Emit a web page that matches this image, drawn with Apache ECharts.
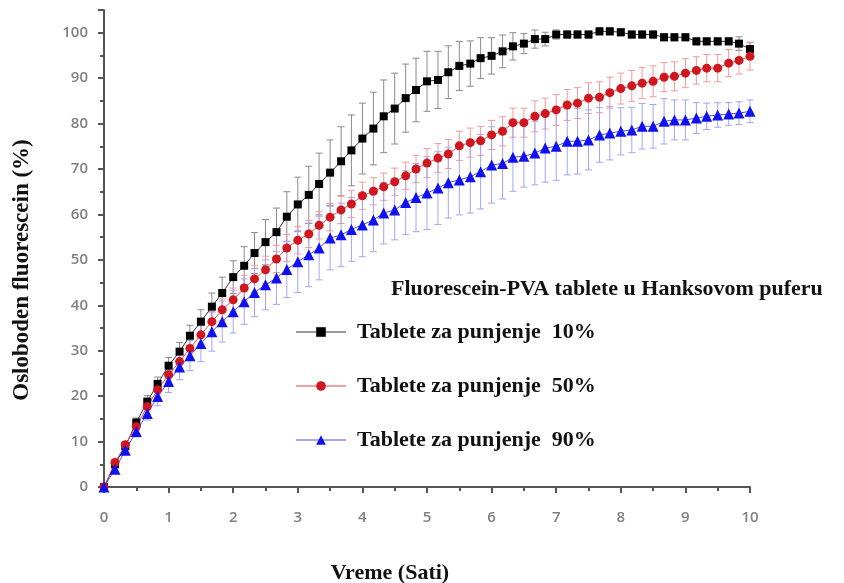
<!DOCTYPE html>
<html>
<head>
	<meta charset="UTF-8">
	<title>Osloboden fluorescein</title>
	<script src="https://cdn.jsdelivr.net/npm/echarts@6/dist/echarts.min.js"></script>
	<style type="text/css">
		html, body {
			margin: 0;
			padding: 0;
			background: #fff;
		}
		#main {
			width: 844px;
			height: 583px;
		}
	</style>
</head>
<body>
	<div id="main"></div>
	<script type="text/javascript">
		// vreme (sati)
		var times = [0, 0.17, 0.33, 0.5, 0.67, 0.83, 1, 1.17, 1.33, 1.5, 1.67, 1.83, 2, 2.17, 2.33, 2.5, 2.67, 2.83, 3, 3.17, 3.33, 3.5, 3.67, 3.83, 4, 4.17, 4.33, 4.5, 4.67, 4.83, 5, 5.17, 5.33, 5.5, 5.67, 5.83, 6, 6.17, 6.33, 6.5, 6.67, 6.83, 7, 7.17, 7.33, 7.5, 7.67, 7.83, 8, 8.17, 8.33, 8.5, 8.67, 8.83, 9, 9.17, 9.33, 9.5, 9.67, 9.83, 10];
		// tablete 10%
		var load10 = [0, 5.0, 9.0, 14.2, 18.8, 22.7, 26.7, 29.8, 33.3, 36.4, 39.7, 42.7, 46.2, 48.7, 51.5, 53.9, 56.1, 59.5, 62.2, 64.3, 66.7, 69.2, 71.7, 74.1, 76.7, 78.9, 81.6, 83.3, 85.6, 87.4, 89.3, 89.6, 91.3, 92.7, 93.2, 94.4, 94.9, 95.9, 97.0, 97.6, 98.6, 98.6, 99.6, 99.6, 99.6, 99.6, 100.3, 100.3, 100.1, 99.6, 99.6, 99.6, 99.0, 99.0, 99.0, 98.1, 98.1, 98.1, 98.1, 97.6, 96.4];
		var err10 = [0, 0.5, 0.8, 1.0, 1.3, 1.5, 1.8, 2.0, 2.3, 2.6, 3.0, 3.5, 3.6, 4.2, 4.5, 5.0, 5.3, 5.5, 6.0, 6.3, 6.8, 7.2, 7.6, 7.8, 7.8, 8.0, 8.0, 7.8, 7.5, 7.0, 6.6, 6.3, 5.8, 5.4, 5.0, 4.5, 4.0, 3.6, 3.0, 2.2, 2.0, 1.5, 1.0, 0.8, 0.8, 0.8, 0.8, 0.8, 0.8, 0.8, 0.8, 0.8, 0.8, 0.8, 0.8, 0.8, 0.8, 0.8, 0.8, 1.5, 1.5];
		// tablete 50%
		var load50 = [0, 5.4, 9.3, 13.3, 17.7, 21.4, 24.7, 27.6, 30.5, 33.5, 36.4, 39.0, 41.2, 43.8, 45.8, 47.8, 50.2, 52.6, 54.3, 55.7, 57.6, 59.4, 61.0, 62.3, 64.1, 65.1, 66.1, 67.2, 68.5, 70.0, 71.3, 72.4, 73.3, 75.1, 75.8, 76.2, 77.5, 78.3, 80.2, 80.2, 81.6, 82.2, 83.0, 84.1, 84.5, 85.6, 85.8, 86.8, 87.7, 88.3, 88.9, 89.3, 90.2, 90.4, 91.1, 91.7, 92.2, 92.2, 93.3, 93.9, 94.8];
		var err50 = [0, 0.4, 0.6, 0.8, 1.0, 1.2, 1.4, 1.6, 1.8, 2.0, 2.2, 2.4, 2.6, 2.8, 3.0, 3.0, 3.0, 3.0, 3.0, 3.0, 3.0, 3.0, 3.0, 3.0, 3.0, 3.0, 3.0, 3.0, 3.0, 3.0, 3.2, 3.2, 3.2, 3.2, 3.2, 3.2, 3.2, 3.2, 3.2, 3.2, 3.4, 3.4, 3.4, 3.4, 3.4, 3.4, 3.4, 3.4, 3.4, 3.4, 3.4, 3.4, 3.2, 3.2, 3.2, 3.0, 3.0, 3.0, 3.0, 3.0, 3.0];
		// tablete 90%
		var load90 = [0, 3.9, 8.1, 12.2, 16.2, 19.9, 23.2, 26.4, 28.9, 31.6, 34.2, 36.4, 38.6, 40.8, 42.8, 44.5, 46.0, 47.9, 49.6, 51.1, 52.6, 54.8, 55.5, 56.7, 57.7, 58.8, 60.3, 61.0, 62.6, 63.7, 64.7, 65.8, 67.0, 67.6, 68.3, 69.4, 70.9, 71.2, 72.6, 72.8, 73.5, 74.6, 75.0, 76.1, 76.1, 76.4, 77.5, 77.9, 78.3, 78.6, 79.4, 79.4, 80.5, 80.8, 80.8, 81.2, 81.6, 81.9, 82.1, 82.3, 82.7];
		var err90 = [0, 0.5, 0.8, 1.2, 1.5, 2.0, 2.4, 2.8, 3.3, 4.0, 4.3, 4.5, 4.7, 5.0, 5.3, 5.5, 5.8, 6.2, 6.8, 7.0, 7.0, 7.0, 7.0, 7.0, 7.0, 7.0, 6.8, 6.6, 7.0, 7.5, 8.0, 8.0, 7.8, 7.7, 8.0, 8.2, 8.4, 7.8, 7.5, 6.8, 7.0, 7.5, 7.5, 7.4, 7.2, 6.6, 6.0, 5.9, 5.2, 5.0, 5.0, 4.8, 5.0, 4.4, 4.4, 3.4, 2.9, 2.7, 2.5, 2.5, 2.5];
		// nazivi
		var names = ['Tablete za punjenje  10%', 'Tablete za punjenje  50%', 'Tablete za punjenje  90%'];
		var xTicks = [0, 1, 2, 3, 4, 5, 6, 7, 8, 9, 10];
		var yTicks = [0, 10, 20, 30, 40, 50, 60, 70, 80, 90, 100];

		var serif = '"Liberation Serif", "Times New Roman", serif';

		function pairs(v) {
			var out = [];
			for(var i = 0; i < times.length; i++) {
				out.push([times[i], v[i]]);
			}
			return out;
		}

		function bars(v, e) {
			var out = [];
			for(var i = 0; i < times.length; i++) {
				out.push([times[i], v[i] - e[i], v[i] + e[i]]);
			}
			return out;
		}

		// greske (error bars)
		function errSeries(v, e, color) {
			return {
				type: 'custom',
				z: 1,
				silent: true,
				encode: { x: 0, y: [1, 2] },
				data: bars(v, e),
				renderItem: function(params, api) {
					var x = api.value(0);
					var top = api.coord([x, api.value(2)]);
					var bot = api.coord([x, api.value(1)]);
					var w = 3.5;
					var st = { stroke: color, lineWidth: 1 };
					return {
						type: 'group',
						children: [
							{ type: 'line', shape: { x1: top[0], y1: top[1], x2: bot[0], y2: bot[1] }, style: st },
							{ type: 'line', shape: { x1: top[0] - w, y1: top[1], x2: top[0] + w, y2: top[1] }, style: st },
							{ type: 'line', shape: { x1: bot[0] - w, y1: bot[1], x2: bot[0] + w, y2: bot[1] }, style: st }
						]
					};
				}
			};
		}

		function lineSeries(name, v, color, lineColor, symbol, size) {
			return {
				name: name,
				type: 'line',
				z: 3,
				data: pairs(v),
				symbol: symbol,
				symbolSize: size,
				showAllSymbol: true,
				itemStyle: { color: color },
				lineStyle: { color: lineColor, width: 1 }
			};
		}

		var myChart = echarts.init(document.getElementById('main'));
		var option = {
			animation: false,
			backgroundColor: '#fff',
			title: {
				text: 'Fluorescein-PVA tablete u Hanksovom puferu',
				left: 386,
				top: 273,
				textStyle: {
					fontFamily: serif,
					fontWeight: 'bold',
					fontSize: 22,
					color: '#111'
				}
			},
			// nazivi osa
			graphic: [{
				type: 'text',
				x: 22,
				y: 270,
				rotation: Math.PI / 2,
				style: {
					text: 'Osloboden fluorescein (%)',
					font: 'bold 23px ' + serif,
					fill: '#111',
					textAlign: 'center',
					textVerticalAlign: 'middle'
				}
			}, {
				type: 'text',
				x: 390,
				y: 573,
				style: {
					text: 'Vreme (Sati)',
					font: 'bold 22px ' + serif,
					fill: '#111',
					textAlign: 'center',
					textVerticalAlign: 'middle'
				}
			}],
			legend: {
				orient: 'vertical',
				left: 290,
				top: 316,
				itemWidth: 50,
				itemHeight: 12,
				itemGap: 32,
				data: [
					{ name: names[0], lineStyle: { color: '#999' } },
					{ name: names[1], lineStyle: { color: '#f0a0a0' } },
					{ name: names[2], lineStyle: { color: '#a8a8f0' } }
				],
				textStyle: {
					fontFamily: serif,
					fontWeight: 'bold',
					fontSize: 22,
					color: '#111',
					padding: [0, 0, 0, 6]
				}
			},
			grid: {
				left: 104,
				right: 94,
				top: 10,
				bottom: 96,
				outerBoundsMode: 'none'
			},
			xAxis: {
				type: 'value',
				min: 0,
				max: 10,
				interval: 1,
				splitLine: { show: false },
				axisLine: { lineStyle: { color: '#555', width: 2 } },
				axisTick: { inside: false, length: 6, lineStyle: { color: '#555', width: 2 } },
				minorTick: { show: true, splitNumber: 2, length: 4, lineStyle: { color: '#555', width: 2 } },
				axisLabel: {
					margin: 23,
					color: '#808080',
					fontFamily: 'Open Sans',
					fontWeight: 600,
					fontSize: 15,
					formatter: function(v) {
						return xTicks.indexOf(v) >= 0 ? String(v) : '';
					}
				}
			},
			yAxis: {
				type: 'value',
				min: 0,
				max: 105,
				interval: 10,
				splitLine: { show: false },
				axisLine: { show: true, lineStyle: { color: '#555', width: 2 } },
				axisTick: { show: true, inside: false, length: 6, lineStyle: { color: '#555', width: 2 } },
				minorTick: { show: true, splitNumber: 2, length: 4, lineStyle: { color: '#555', width: 2 } },
				axisLabel: {
					margin: 16,
					showMaxLabel: false,
					color: '#808080',
					fontFamily: 'Open Sans',
					fontWeight: 600,
					fontSize: 15,
					formatter: function(v) {
						return yTicks.indexOf(v) >= 0 ? String(v) : '';
					}
				}
			},
			series: [
				errSeries(load10, err10, '#8a8a8a'),
				errSeries(load50, err50, '#f09a9a'),
				errSeries(load90, err90, '#a4a4f4'),
				lineSeries(names[0], load10, '#000', '#333', 'rect', 8),
				lineSeries(names[1], load50, '#d0161e', '#e05050', 'circle', 9),
				lineSeries(names[2], load90, '#1010f0', '#5050f0', 'triangle', 11)
			]
		};
		myChart.setOption(option);
	</script>
</body>
</html>
